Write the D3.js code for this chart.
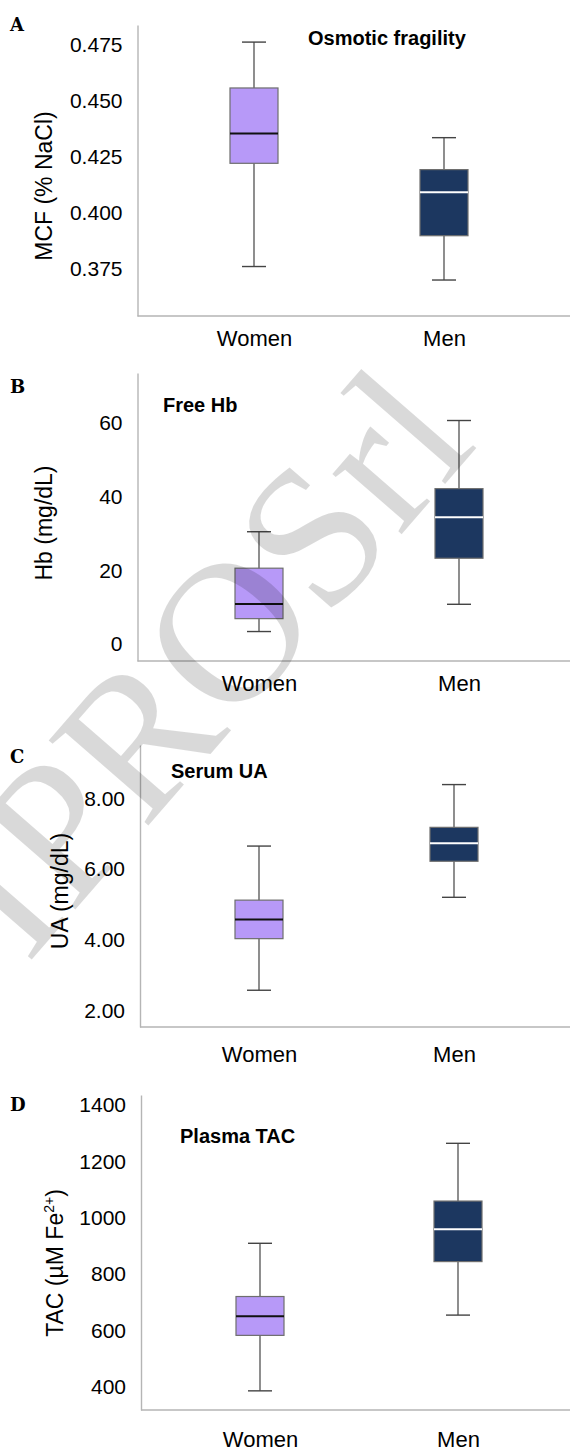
<!DOCTYPE html>
<html>
<head>
<meta charset="utf-8">
<script src="https://cdn.jsdelivr.net/npm/d3@7"></script>
<style>
  html, body { margin: 0; padding: 0; background: #fff; }
  svg { display: block; font-family: "Liberation Sans", Arial, sans-serif; }
</style>
</head>
<body>
<svg id="chart" width="570" height="1454"></svg>
<script>
const groups = ['Women', 'Men'];

// five-number summaries: [min, q1, median, q3, max]
const mcfWomen = [0.3762, 0.4221, 0.4353, 0.4556, 0.4760];
const mcfMen = [0.3702, 0.3899, 0.4092, 0.4193, 0.4335];
const mcfTicks = [0.375, 0.400, 0.425, 0.450, 0.475];

const hbWomen = [3.4, 6.9, 10.9, 20.6, 30.5];
const hbMen = [10.8, 23.3, 34.4, 42.2, 60.7];
const hbTicks = [0, 20, 40, 60];

const uaWomen = [2.57, 4.03, 4.57, 5.12, 6.65];
const uaMen = [5.20, 6.22, 6.73, 7.18, 8.39];
const uaTicks = [2, 4, 6, 8];

const tacWomen = [385, 582, 650, 720, 909];
const tacMen = [654, 844, 959, 1059, 1264];
const tacTicks = [400, 600, 800, 1000, 1200, 1400];

const fills = { Women: '#b799f8', Men: '#1c3760' };
const medianColors = { Women: '#111', Men: '#fff' };

// layout of each panel (pixels), kept apart from the values
const panels = [
  { letter: 'A', title: 'Osmotic fragility', ylabel: ['MCF (% NaCl)'], stats: [mcfWomen, mcfMen],
    ticks: mcfTicks, fmt: '.3f', domain: [0.3542, 0.4836],
    top: 25, bottom: 316, axisX: 137.5, cx: [254, 444], catPad: 14,
    titleX: 308, titleY: 45, labelX: 52, labelY: 186, letterY: 31 },
  { letter: 'B', title: 'Free Hb', ylabel: ['Hb (mg/dL)'], stats: [hbWomen, hbMen],
    ticks: hbTicks, fmt: 'd', domain: [-4.6, 73.6],
    top: 373, bottom: 661, axisX: 137.5, cx: [259, 459], catPad: 14,
    titleX: 163, titleY: 412, labelX: 52, labelY: 523, letterY: 393 },
  { letter: 'C', title: 'Serum UA', ylabel: ['UA (mg/dL)'], stats: [uaWomen, uaMen],
    ticks: uaTicks, fmt: '.2f', domain: [1.53, 9.51],
    top: 745, bottom: 1027, axisX: 140, cx: [259, 454], catPad: 19,
    titleX: 171, titleY: 778, labelX: 68, labelY: 891, letterY: 763 },
  { letter: 'D', title: 'Plasma TAC', ylabel: ['TAC (µM Fe', '2+', ')'], stats: [tacWomen, tacMen],
    ticks: tacTicks, fmt: 'd', domain: [317, 1435.6],
    top: 1095, bottom: 1410, axisX: 141, cx: [260, 458], catPad: 21,
    titleX: 180, titleY: 1143, labelX: 63, labelY: 1263, letterY: 1111 }
];

const svg = d3.select('#chart');
const width = 570;
const boxWidth = 48;
const capWidth = 24;

panels.forEach(p => {
  const g = svg.append('g').attr('class', 'panel');

  const y = d3.scaleLinear().domain(p.domain).range([p.bottom, p.top]);
  const x = d3.scalePoint().domain(groups).range(p.cx);

  // y axis, no tick marks
  const yAxis = g.append('g')
    .attr('transform', `translate(${p.axisX},0)`)
    .call(d3.axisLeft(y).tickValues(p.ticks).tickFormat(d3.format(p.fmt))
      .tickSize(0).tickSizeOuter(0).tickPadding(15));
  yAxis.select('.domain').attr('stroke', '#b5b5b5').attr('stroke-width', 1.4);
  yAxis.selectAll('text').attr('font-size', 21).attr('fill', '#000')
    .attr('font-family', '"Liberation Sans", Arial, sans-serif');

  // x axis: baseline across to the right edge, category names below
  g.append('line')
    .attr('x1', p.axisX).attr('x2', width)
    .attr('y1', p.bottom).attr('y2', p.bottom)
    .attr('stroke', '#b5b5b5').attr('stroke-width', 1.4);
  const xAxis = g.append('g')
    .attr('transform', `translate(0,${p.bottom})`)
    .call(d3.axisBottom(x).tickSize(0).tickPadding(p.catPad));
  xAxis.select('.domain').remove();
  xAxis.selectAll('text').attr('font-size', 22).attr('fill', '#000')
    .attr('font-family', '"Liberation Sans", Arial, sans-serif');

  // boxes
  const data = groups.map((name, i) => ({ name, s: p.stats[i] }));
  const box = g.selectAll('g.box').data(data).enter().append('g').attr('class', 'box');

  box.append('line')
    .attr('x1', d => x(d.name)).attr('x2', d => x(d.name))
    .attr('y1', d => y(d.s[0])).attr('y2', d => y(d.s[4]))
    .attr('stroke', '#444').attr('stroke-width', 1.2);
  [0, 4].forEach(k => {
    box.append('line')
      .attr('x1', d => x(d.name) - capWidth / 2).attr('x2', d => x(d.name) + capWidth / 2)
      .attr('y1', d => y(d.s[k])).attr('y2', d => y(d.s[k]))
      .attr('stroke', '#444').attr('stroke-width', 1.4);
  });
  box.append('rect')
    .attr('x', d => x(d.name) - boxWidth / 2)
    .attr('width', boxWidth)
    .attr('y', d => y(d.s[3]))
    .attr('height', d => y(d.s[1]) - y(d.s[3]))
    .attr('fill', d => fills[d.name])
    .attr('stroke', '#6e6e6e').attr('stroke-width', 1.2);
  box.append('line')
    .attr('x1', d => x(d.name) - boxWidth / 2).attr('x2', d => x(d.name) + boxWidth / 2)
    .attr('y1', d => y(d.s[2])).attr('y2', d => y(d.s[2]))
    .attr('stroke', d => medianColors[d.name]).attr('stroke-width', 2);

  // panel title
  g.append('text')
    .attr('x', p.titleX).attr('y', p.titleY)
    .attr('font-size', 20).attr('font-weight', 'bold')
    .text(p.title);

  // y label
  const yl = g.append('text')
    .attr('transform', `translate(${p.labelX},${p.labelY}) rotate(-90)`)
    .attr('text-anchor', 'middle')
    .attr('font-size', 23);
  yl.append('tspan').text(p.ylabel[0]);
  if (p.ylabel.length > 1) {
    yl.append('tspan').attr('font-size', 14).attr('dy', -9).text(p.ylabel[1]);
    yl.append('tspan').attr('dy', 9).text(p.ylabel[2]);
  }

  // panel letter
  g.append('text')
    .attr('x', 10).attr('y', p.letterY)
    .attr('font-family', '"DejaVu Serif", serif')
    .attr('font-weight', 'bold').attr('font-size', 18)
    .text(p.letter);
});

// watermark across the middle panels
svg.append('text')
  .attr('transform', 'translate(27,965) rotate(-49)')
  .attr('font-family', '"Liberation Serif", "Times New Roman", serif')
  .attr('font-size', 200)
  .attr('fill', '#000')
  .attr('fill-opacity', 0.15)
  .text('IPROSrl');
</script>
</body>
</html>
